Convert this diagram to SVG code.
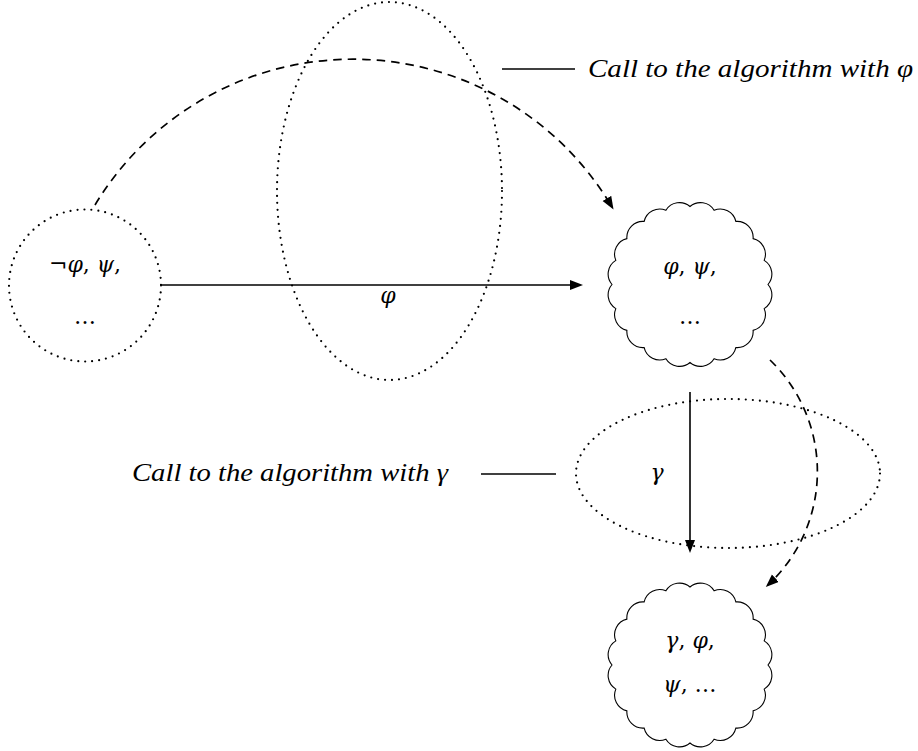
<svg xmlns="http://www.w3.org/2000/svg" xmlns:xlink="http://www.w3.org/1999/xlink" width="918" height="751" viewBox="0 0 918 751">
<style>
.dot{fill:none;stroke:#000;stroke-width:2.2;stroke-dasharray:0 7;stroke-linecap:round}
.solid{fill:none;stroke:#000;stroke-width:1.6}
.dash{fill:none;stroke:#000;stroke-width:1.7;stroke-dasharray:8.5 6}
.cloud{fill:#fff;stroke:#000;stroke-width:1.1}
.lbl{font-family:Liberation Serif, serif;font-style:italic;font-size:26px}
.m{font-family:DejaVu Serif, serif;font-size:22px;text-anchor:middle}
</style>
<defs>
<marker id="arr" markerUnits="userSpaceOnUse" markerWidth="14" markerHeight="11" refX="10" refY="5" orient="auto">
<path d="M0,0 L13,5 L0,10 Z" fill="#000"/>
</marker>
<path id="cloudShape" class="cloud" d="M78,0 A16,16 0 0 1 74.18,24.1 A16,16 0 0 1 63.1,45.85 A16,16 0 0 1 45.85,63.1 A16,16 0 0 1 24.1,74.18 A16,16 0 0 1 0,78 A16,16 0 0 1 -24.1,74.18 A16,16 0 0 1 -45.85,63.1 A16,16 0 0 1 -63.1,45.85 A16,16 0 0 1 -74.18,24.1 A16,16 0 0 1 -78,0 A16,16 0 0 1 -74.18,-24.1 A16,16 0 0 1 -63.1,-45.85 A16,16 0 0 1 -45.85,-63.1 A16,16 0 0 1 -24.1,-74.18 A16,16 0 0 1 0,-78 A16,16 0 0 1 24.1,-74.18 A16,16 0 0 1 45.85,-63.1 A16,16 0 0 1 63.1,-45.85 A16,16 0 0 1 74.18,-24.1 A16,16 0 0 1 78,0 Z"/>
</defs>

<g id="callPhi">
<ellipse class="dot" cx="389.5" cy="191" rx="112.5" ry="189"/>
<line class="solid" x1="502" y1="69" x2="575" y2="69"/>
<text class="lbl" x="588" y="77" textLength="325" lengthAdjust="spacingAndGlyphs">Call to the algorithm with φ</text>
</g>

<g id="callGamma">
<ellipse class="dot" cx="728" cy="473.5" rx="152" ry="74.5"/>
<line class="solid" x1="481" y1="474" x2="556" y2="474"/>
<text class="lbl" x="132" y="481" textLength="316" lengthAdjust="spacingAndGlyphs">Call to the algorithm with γ</text>
</g>

<g id="nodeA">
<circle class="dot" cx="85" cy="285.5" r="76"/>
<text class="m" x="85" y="272">¬<tspan font-style="italic">φ</tspan>, <tspan font-style="italic">ψ</tspan>,</text>
<text class="m" x="85" y="324">…</text>
</g>

<g id="nodeB">
<use xlink:href="#cloudShape" transform="translate(690,284.5)"/>
<text class="m" x="690" y="274"><tspan font-style="italic">φ</tspan>, <tspan font-style="italic">ψ</tspan>,</text>
<text class="m" x="690" y="324">…</text>
</g>

<g id="nodeC">
<use xlink:href="#cloudShape" transform="translate(690,665)"/>
<text class="m" x="690" y="648"><tspan font-style="italic">γ</tspan>, <tspan font-style="italic">φ</tspan>,</text>
<text class="m" x="690" y="692"><tspan font-style="italic">ψ</tspan>, …</text>
</g>

<g id="connectors">
<line class="solid" x1="161" y1="285" x2="580" y2="285" marker-end="url(#arr)"/>
<text class="m" x="388" y="303" font-style="italic">φ</text>
<line class="solid" x1="690" y1="392" x2="690" y2="550" marker-end="url(#arr)"/>
<text class="m" x="657" y="480" font-style="italic">γ</text>
<path class="dash" d="M95,205 A301,301 0 0 1 612,207" marker-end="url(#arr)"/>
<path class="dash" d="M770,360 A155,155 0 0 1 768,585" marker-end="url(#arr)"/>
</g>
</svg>
